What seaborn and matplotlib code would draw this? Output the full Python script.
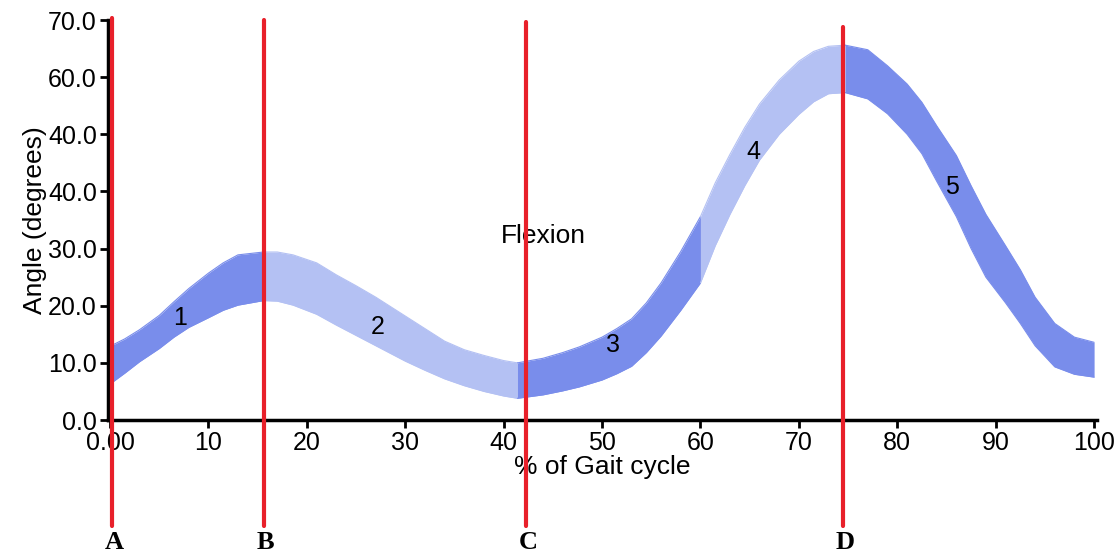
import numpy as np
import matplotlib
matplotlib.use("Agg")
import matplotlib.pyplot as plt
import seaborn as sns

# -----------------------------
# data
# -----------------------------
gait_pct = [0, 1.5, 3, 5, 6.5, 8, 10, 11.5, 13, 15.6,
            17, 18.6, 21, 23, 25, 27, 30, 32, 34, 36, 38, 40, 41.4,
            44, 46, 47.7, 50, 51.5, 53, 54.5, 56, 58, 60,
            61.5, 63, 64.5, 66, 68, 70, 71.5, 73, 74.7,
            77, 79, 81, 82.5, 84, 86, 87.5, 89, 91, 92.5, 94, 96, 98, 100]
angle_upper = [12.9, 14.2, 15.8, 18.3, 20.7, 23.0, 25.7, 27.5, 28.9, 29.4,
               29.4, 28.9, 27.5, 25.4, 23.5, 21.5, 18.2, 16.0, 13.8, 12.3, 11.3, 10.4, 10.0,
               10.8, 11.8, 12.8, 14.5, 16.0, 17.7, 20.5, 24.0, 29.5, 35.6,
               41.5, 46.5, 51.2, 55.3, 59.5, 62.8, 64.5, 65.4, 65.6,
               64.8, 62.0, 58.8, 55.6, 51.5, 46.3, 41.0, 36.0, 30.5, 26.3, 21.5, 16.9, 14.5, 13.6]
angle_lower = [6.3, 8.2, 10.2, 12.5, 14.5, 16.2, 17.9, 19.2, 20.1, 20.9,
               20.8, 20.1, 18.5, 16.6, 14.8, 13.0, 10.3, 8.7, 7.2, 6.0, 5.0, 4.2, 3.8,
               4.4, 5.1, 5.8, 7.0, 8.1, 9.4, 11.8, 14.7, 19.2, 24.0,
               30.5, 36.0, 41.0, 45.5, 50.0, 53.5, 55.7, 57.1, 57.3,
               56.2, 53.6, 50.0, 46.6, 41.8, 35.6, 30.0, 25.0, 20.5, 16.9, 13.0, 9.3, 8.0, 7.5]

phase_bounds = [0, 15.6, 41.4, 60, 74.7, 100]
phase_names = ["1", "2", "3", "4", "5"]
phase_label_x = [7.1, 27.2, 51.1, 65.4, 85.6]
phase_label_y = [17.9, 16.3, 13.1, 46.9, 40.8]

event_names = ["A", "B", "C", "D"]
event_x = [0.2, 15.6, 42.3, 74.5]
event_top = [70.4, 70.0, 69.7, 68.8]

xticks = [0, 10, 20, 30, 40, 50, 60, 70, 80, 90, 100]
xtick_labels = ["0.00", "10", "20", "30", "40", "50", "60", "70", "80", "90", "100"]
yticks = [0, 10, 20, 30, 40, 50, 60, 70]
ytick_labels = ["0.0", "10.0", "20.0", "30.0", "40.0", "40.0", "60.0", "70.0"]

dark = "#798deb"
light = "#b4c1f3"
red = "#e8202a"

sns.set_style("ticks")
plt.rcParams['font.family'] = ['Liberation Sans', 'DejaVu Sans']
plt.rcParams['text.color'] = 'black'
plt.rcParams['axes.labelcolor'] = 'black'

fig = plt.figure(figsize=(11.15, 5.53), dpi=100)
ax = fig.add_axes([0.0969, 0.2405, 0.8870, 0.7233])

x = np.array(gait_pct)
up = np.array(angle_upper)
lo = np.array(angle_lower)

# band, coloured by phase
for i in range(len(phase_names)):
    c = dark if i % 2 == 0 else light
    m = (x >= phase_bounds[i]) & (x <= phase_bounds[i + 1])
    ax.fill_between(x[m], lo[m], up[m], color=c, linewidth=0, zorder=2)
    sns.lineplot(x=x[m], y=up[m], color=c, linewidth=0.8, ax=ax, zorder=2)
    sns.lineplot(x=x[m], y=lo[m], color=c, linewidth=0.8, ax=ax, zorder=2)
    ax.text(phase_label_x[i], phase_label_y[i], phase_names[i], fontsize=18,
            ha="center", va="center", zorder=4)

ax.text(44, 32.2, "Flexion", fontsize=19, ha="center", va="center", zorder=1)

# gait events
for name, ex, top in zip(event_names, event_x, event_top):
    ax.plot([ex, ex], [top, -18.6], color=red, linewidth=3, clip_on=False, zorder=5)
    ax.text(ex + 0.2, -21.4, name, fontsize=19, fontweight="bold", family="Liberation Serif",
            ha="center", va="center", clip_on=False)

ax.set_xlim(-0.2, 100.3)
ax.set_ylim(0, 70)
ax.set_xticks(xticks)
ax.set_xticklabels(xtick_labels)
ax.set_yticks(yticks)
ax.set_yticklabels(ytick_labels)
ax.tick_params(labelsize=18, width=2, length=6, pad=2, colors="black")
ax.set_xlabel("% of Gait cycle", fontsize=19, labelpad=0)
ax.set_ylabel("Angle (degrees)", fontsize=19, labelpad=1)
sns.despine(ax=ax)
for s in ["left", "bottom"]:
    ax.spines[s].set_linewidth(2.5)
    ax.spines[s].set_color("black")

fig.savefig("out.png", dpi=100)
